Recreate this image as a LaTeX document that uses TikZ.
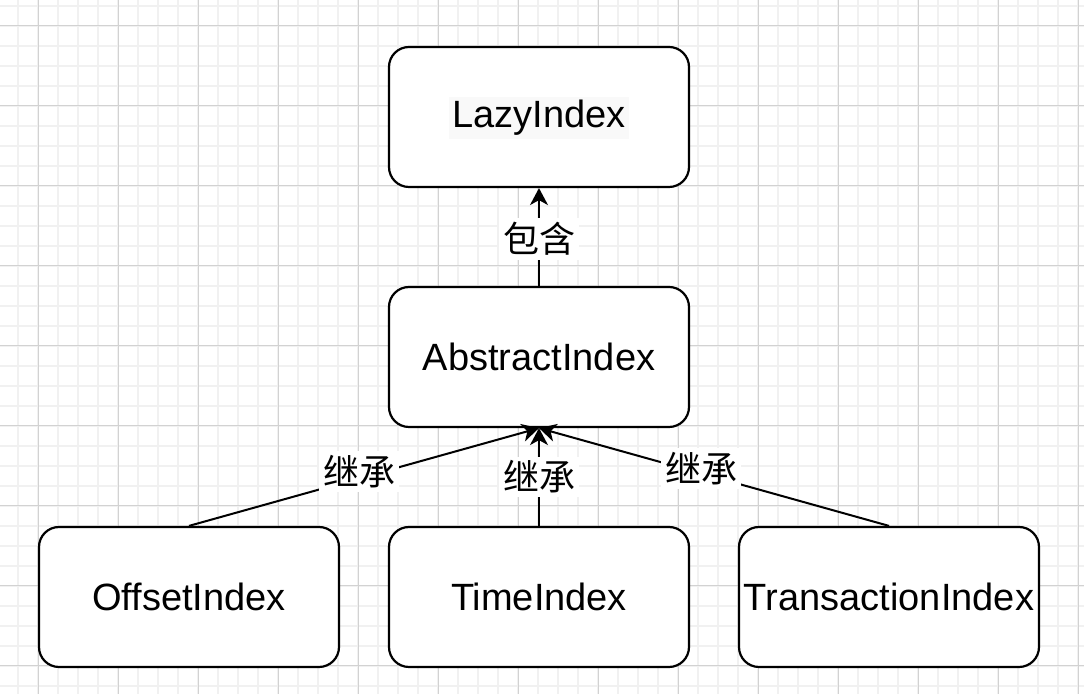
\documentclass[tikz,border=0pt]{standalone}
\usepackage{fontspec}
\setmainfont{Liberation Sans}
\newfontfamily\cjk{Noto Sans CJK SC}
\usetikzlibrary{arrows.meta}
\definecolor{gridminor}{HTML}{F1F1F1}
\definecolor{gridmajor}{HTML}{D2D2D2}
\definecolor{textbg}{HTML}{F9F9F9}
\tikzset{
  box/.style={draw=black, line width=1.1pt, rounded corners=10pt, fill=white,
    minimum width=150pt, minimum height=70pt, inner sep=0pt,
    font=\fontsize{19pt}{22pt}\selectfont},
  arr/.style={draw=black, line width=1pt,
    -{Stealth[length=8.5pt,width=9pt,inset=2.5pt]}},
  lbl/.style={fill=white, inner sep=2pt, font=\cjk\fontsize{18pt}{22pt}\selectfont}
}
\begin{document}
\begin{tikzpicture}[x=0.5pt,y=-0.5pt]
\useasboundingbox (0,0) rectangle (1084,694);
\fill[white] (0,0) rectangle (1084,694);
% grid
\foreach \x in {18,38,...,1078} \draw[gridminor, line width=1pt] (\x,0) -- (\x,694);
\foreach \y in {6,26,...,686} \draw[gridminor, line width=1pt] (0,\y) -- (1084,\y);
\foreach \x in {38,118,...,1078} \draw[gridmajor, line width=0.5pt] (\x,0) -- (\x,694);
\foreach \y in {26,106,...,666} \draw[gridmajor, line width=0.5pt] (0,\y) -- (1084,\y);
% nodes
\node[box] (lazy) at (539,117) {};
\node[fill=textbg, inner sep=1.5pt, font=\fontsize{19pt}{22pt}\selectfont] (lazyt) at (539,118) {LazyIndex};
\node[box] (abstract) at (539,357) {AbstractIndex};
\node[box] (offset) at (189,597) {OffsetIndex};
\node[box] (time) at (539,597) {TimeIndex};
\node[box] (trans) at (889,597) {TransactionIndex};
% connectors
\draw[arr] (abstract.north) -- node[lbl, pos=0.48] {包含} (lazy.south);
\draw[arr] (offset.north) -- node[lbl, pos=0.486, yshift=3.5pt] {继承} (abstract.south);
\draw[arr] (time.north) -- node[lbl, pos=0.5] {继承} (abstract.south);
\draw[arr] (trans.north) -- node[lbl, pos=0.537, yshift=2.5pt] {继承} (abstract.south);
\end{tikzpicture}
\end{document}
